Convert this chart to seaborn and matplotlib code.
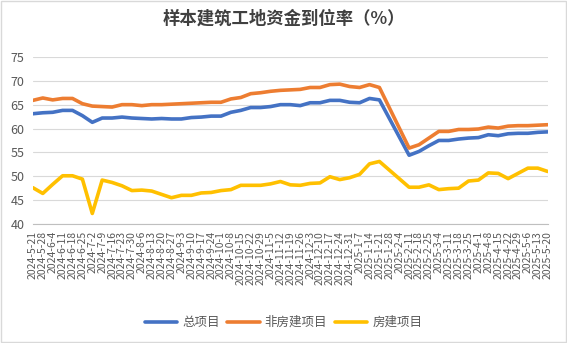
import numpy as np
import pandas as pd
import matplotlib
matplotlib.use("Agg")
import matplotlib.pyplot as plt
import seaborn as sns

dates = ["2024-5-21", "2024-5-28", "2024-6-4", "2024-6-11", "2024-6-18", "2024-6-25",
         "2024-7-2", "2024-7-9", "2024-7-16", "2024-7-23", "2024-7-30", "2024-8-6",
         "2024-8-13", "2024-8-20", "2024-8-27", "2024-9-3", "2024-9-10", "2024-9-17",
         "2024-9-24", "2024-10-1", "2024-10-8", "2024-10-15", "2024-10-22", "2024-10-29",
         "2024-11-5", "2024-11-12", "2024-11-19", "2024-11-26", "2024-12-3", "2024-12-10",
         "2024-12-17", "2024-12-24", "2024-12-31", "2025-1-7", "2025-1-14", "2025-1-21",
         "2025-1-28", "2025-2-4", "2025-2-11", "2025-2-18", "2025-2-25", "2025-3-4",
         "2025-3-11", "2025-3-18", "2025-3-25", "2025-4-1", "2025-4-8", "2025-4-15",
         "2025-4-22", "2025-4-29", "2025-5-6", "2025-5-13", "2025-5-20"]

nan = np.nan
total = [63.1, 63.3, 63.4, 63.8, 63.8, 62.7, 61.3, 62.2, 62.2, 62.4, 62.2, 62.1,
         62.0, 62.1, 62.0, 62.0, 62.3, 62.4, 62.6, 62.6, 63.4, 63.8, 64.4, 64.4,
         64.6, 65.0, 65.0, 64.8, 65.4, 65.4, 65.9, 65.9, 65.5, 65.4, 66.3, 66.0,
         nan, nan, 54.4, 55.2, 56.4, 57.5, 57.5, 57.8, 58.0, 58.1, 58.7, 58.5,
         58.9, 59.0, 59.0, 59.2, 59.3]
non_housing = [65.9, 66.4, 66.0, 66.3, 66.3, 65.2, 64.7, 64.6, 64.5, 65.0, 65.0, 64.8,
               65.0, 65.0, 65.1, 65.2, 65.3, 65.4, 65.5, 65.5, 66.2, 66.5, 67.3, 67.5,
               67.8, 68.0, 68.1, 68.2, 68.6, 68.6, 69.2, 69.3, 68.8, 68.6, 69.2, 68.6,
               nan, nan, 55.9, 56.6, 58.0, 59.4, 59.4, 59.8, 59.8, 59.9, 60.3, 60.1,
               60.5, 60.6, 60.6, 60.7, 60.8]
housing = [47.6, 46.4, 48.3, 50.1, 50.1, 49.4, 42.2, 49.2, 48.7, 48.0, 47.0, 47.1,
           46.9, 46.2, 45.5, 46.0, 46.0, 46.5, 46.6, 47.0, 47.2, 48.1, 48.1, 48.1,
           48.4, 48.9, 48.2, 48.1, 48.5, 48.6, 49.9, 49.3, 49.7, 50.4, 52.6, 53.1,
           nan, nan, 47.7, 47.7, 48.2, 47.2, 47.4, 47.5, 49.0, 49.2, 50.7, 50.6,
           49.5, 50.6, 51.7, 51.7, 51.0]

series_names = ["总项目", "非房建项目", "房建项目"]
colors = ["#4472C4", "#ED7D31", "#FFC000"]
yticks = [40, 45, 50, 55, 60, 65, 70, 75]

sns.set_theme(style="white")
plt.rcParams['font.family'] = ['Noto Sans CJK SC', 'DejaVu Sans']

idx = np.arange(len(dates))
frames = []
for name, vals in zip(series_names, [total, non_housing, housing]):
    frames.append(pd.DataFrame({"x": idx, "value": vals, "series": name}))
df = pd.concat(frames).dropna()

fig = plt.figure(figsize=(5.67, 3.43), dpi=100)
ax = fig.add_axes([0.058, 0.347, 0.908, 0.487])

sns.lineplot(data=df, x="x", y="value", hue="series", hue_order=series_names,
             palette=colors, linewidth=2.6, ax=ax, legend=True)

ax.set_xlim(0, len(dates) - 1)
ax.set_ylim(40, 75)
ax.set_yticks(yticks)
ax.set_yticklabels([str(v) for v in yticks], fontsize=9, color="#595959")
ax.set_xticks(idx)
ax.set_xticklabels(dates, rotation=90, fontsize=7.5, color="#595959")
ax.tick_params(axis="x", length=3, color="#BFBFBF", pad=2)
ax.tick_params(axis="y", length=0, pad=6)
ax.set_xlabel("")
ax.set_ylabel("")
ax.grid(axis="y", color="#D9D9D9", linewidth=0.8)
ax.set_axisbelow(True)
for s in ["top", "right", "left"]:
    ax.spines[s].set_visible(False)
ax.spines["bottom"].set_color("#BFBFBF")
ax.spines["bottom"].set_linewidth(0.8)

handles, labels = ax.get_legend_handles_labels()
ax.legend(handles, labels, loc="center", ncol=3, frameon=False, fontsize=9,
          handlelength=2.6, columnspacing=0.6, handletextpad=0.4, labelcolor="#595959")
ax.legend_.set_bbox_to_anchor((0.5, 0.06), transform=fig.transFigure)

fig.text(0.5, 0.945, "样本建筑工地资金到位率（%）", ha="center", va="center",
         fontsize=12.5, fontweight="bold", color="#404040")

fig.patches.append(plt.Rectangle((0.002, 0.003), 0.996, 0.994, transform=fig.transFigure,
                                 fill=False, edgecolor="#D9D9D9", linewidth=1))

fig.savefig("out.png", dpi=100)
